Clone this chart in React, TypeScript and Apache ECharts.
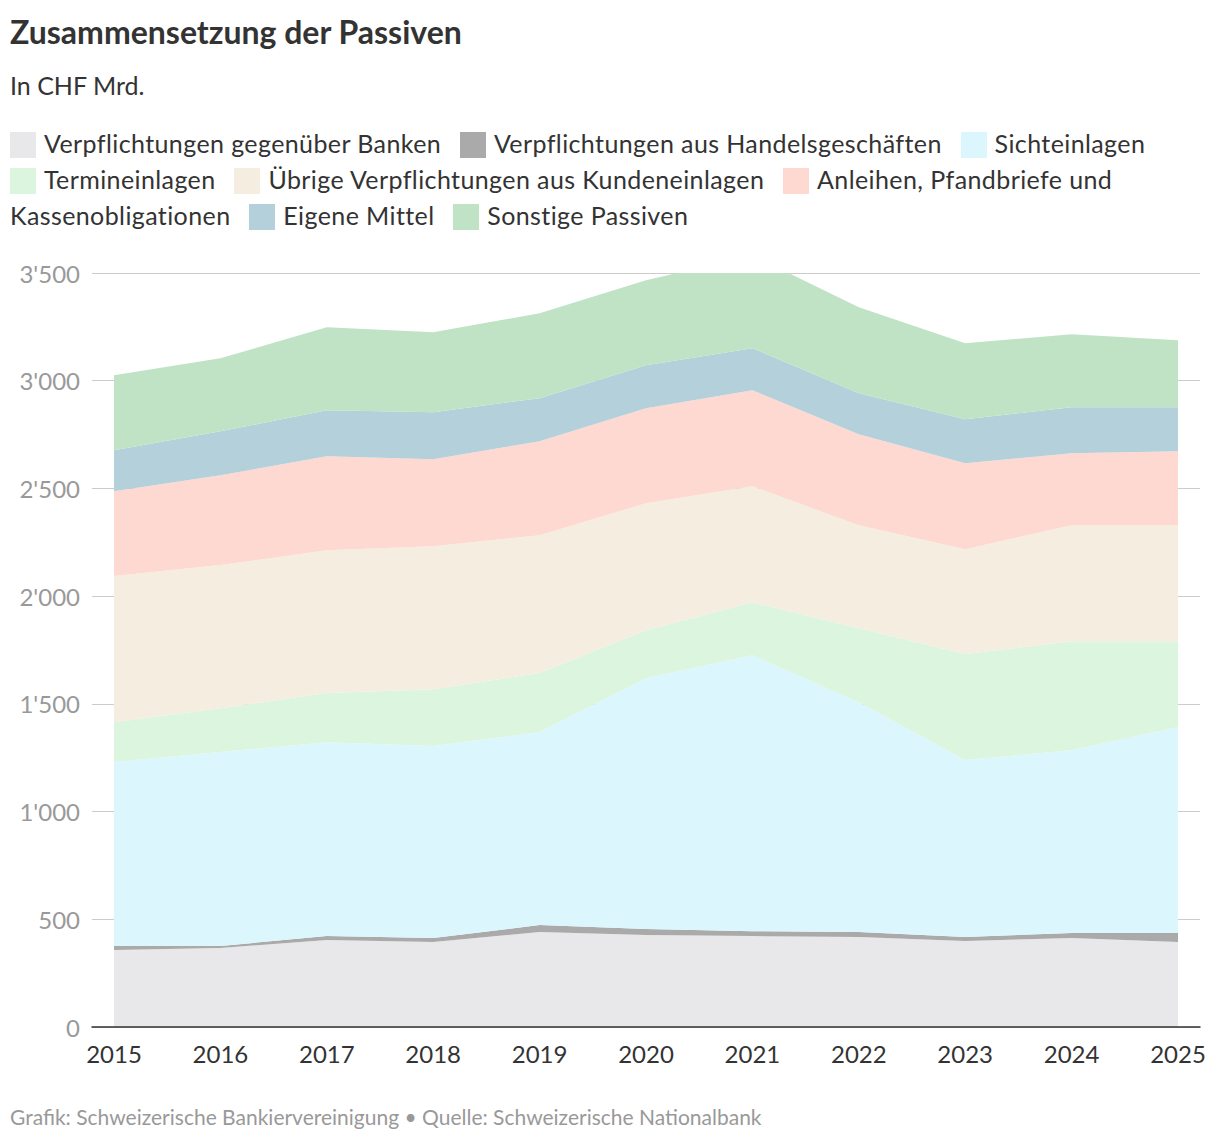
import React, { useRef, useEffect } from 'react';
import * as echarts from 'echarts';

const years = ['2015', '2016', '2017', '2018', '2019', '2020', '2021', '2022', '2023', '2024', '2025'];
const banken = [357, 367, 404, 394, 441, 427, 422, 418, 399, 413, 394];
const handel = [19, 9, 18, 19, 32, 28, 23, 23, 19, 23, 42];
const sicht = [854, 900, 900, 891, 896, 1164, 1281, 1067, 821, 849, 956];
const termin = [185, 204, 228, 264, 274, 223, 246, 343, 492, 506, 399];
const uebrige = [678, 664, 663, 664, 640, 589, 538, 478, 487, 538, 538];
const anleihen = [394, 417, 436, 404, 436, 441, 446, 423, 399, 334, 344];
const eigene = [190, 204, 214, 218, 200, 200, 195, 190, 204, 214, 204];
const sonstige = [348, 339, 385, 371, 394, 394, 431, 399, 353, 339, 311];

const seriesDefs = [
    { name: 'Verpflichtungen gegenüber Banken', data: banken, color: '#e8e8ea' },
    { name: 'Verpflichtungen aus Handelsgeschäften', data: handel, color: '#aaaaaa' },
    { name: 'Sichteinlagen', data: sicht, color: '#dcf6fd' },
    { name: 'Termineinlagen', data: termin, color: '#dcf5df' },
    { name: 'Übrige Verpflichtungen aus Kundeneinlagen', data: uebrige, color: '#f4ede0' },
    { name: 'Anleihen, Pfandbriefe und Kassenobligationen', data: anleihen, color: '#fed9d2' },
    { name: 'Eigene Mittel', data: eigene, color: '#b4d0da' },
    { name: 'Sonstige Passiven', data: sonstige, color: '#bfe3c4' },
];

const FONT = 'Lato, "Noto Sans", sans-serif';

const App: React.FC = () => {
    const chartRef = useRef<HTMLDivElement>(null);

    useEffect(() => {
        if (!chartRef.current) return;
        const chart = echarts.init(chartRef.current, undefined, { renderer: 'svg' });
        chart.setOption({
            animation: false,
            textStyle: { fontFamily: FONT },
            grid: [
                { left: 114, right: 42, top: 273, bottom: 119, z: 2 },
                { left: 92, right: 20, top: 273, bottom: 119, z: 1 },
            ],
            xAxis: [
                {
                    type: 'category',
                    gridIndex: 0,
                    data: years,
                    boundaryGap: false,
                    axisTick: { show: false },
                    axisLine: { show: false },
                    axisLabel: { color: '#333', fontSize: 24, margin: 14 },
                },
                {
                    type: 'value',
                    gridIndex: 1,
                    min: 0,
                    max: 1,
                    splitLine: { show: false },
                    axisTick: { show: false },
                    axisLabel: { show: false },
                    axisLine: { show: true, lineStyle: { color: '#333', width: 1.5 } },
                    z: 10,
                },
            ],
            yAxis: [
                {
                    type: 'value',
                    gridIndex: 0,
                    min: 0,
                    max: 3500,
                    interval: 500,
                    axisLine: { show: false },
                    axisTick: { show: false },
                    splitLine: { show: false },
                    axisLabel: { show: false },
                },
                {
                    type: 'value',
                    gridIndex: 1,
                    min: 0,
                    max: 3500,
                    interval: 500,
                    axisLine: { show: false },
                    axisTick: { show: false },
                    splitLine: { lineStyle: { color: '#cccccc' } },
                    axisLabel: {
                        color: '#999',
                        fontSize: 24,
                        margin: 12,
                        formatter: (v: number) => String(v).replace(/\B(?=(\d{3})+(?!\d))/g, "'"),
                    },
                },
            ],
            series: seriesDefs.map(s => ({
                name: s.name,
                type: 'line',
                xAxisIndex: 0,
                yAxisIndex: 0,
                stack: 'total',
                symbol: 'none',
                lineStyle: { width: 0 },
                areaStyle: { color: s.color, opacity: 1 },
                data: s.data,
            })),
        });
        return () => chart.dispose();
    }, []);

    return (
        <div style={{ position: 'absolute', left: 0, top: 0, width: 1220, height: 1146, fontFamily: FONT, color: '#333' }}>
            <div ref={chartRef} style={{ position: 'absolute', left: 0, top: 0, width: 1220, height: 1146 }} />
            <div style={{ position: 'absolute', left: 10, top: 12, fontSize: 32, fontWeight: 700, color: '#333' }}>
                Zusammensetzung der Passiven
            </div>
            <div style={{ position: 'absolute', left: 10, top: 70, fontSize: 25, color: '#333' }}>In CHF Mrd.</div>
            <div style={{ position: 'absolute', left: 10, top: 125, width: 1180, fontSize: 25, letterSpacing: 0.4, lineHeight: '36px', color: '#333' }}>
                {seriesDefs.map(s => {
                    const parts = s.name.split(' ');
                    return (
                        <span key={s.name}>
                            <span style={{ whiteSpace: 'nowrap' }}>
                                <span style={{ display: 'inline-block', width: 26, height: 26, background: s.color, verticalAlign: '-5px', marginRight: 8 }} />
                                {parts[0]}
                            </span>
                            {parts.length > 1 ? ' ' + parts.slice(1).join(' ') : ''}
                            <span style={{ display: 'inline-block', width: 12 }} />{' '}
                        </span>
                    );
                })}
            </div>
            <div style={{ position: 'absolute', left: 10, top: 1104, fontSize: 21, color: '#999' }}>
                Grafik: Schweizerische Bankiervereinigung • Quelle: Schweizerische Nationalbank
            </div>
        </div>
    );
};

export default App;
